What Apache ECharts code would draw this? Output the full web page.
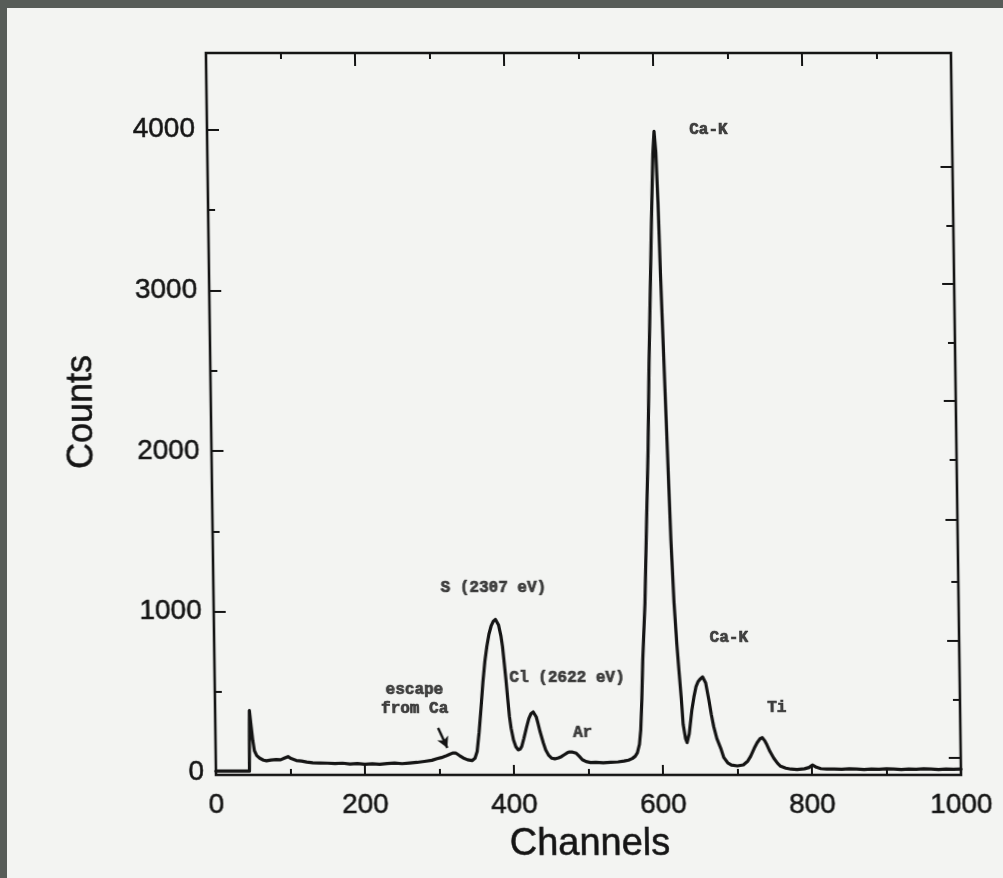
<!DOCTYPE html>
<html>
<head>
<meta charset="utf-8">
<title>Channels vs Counts</title>
<script src="https://cdn.jsdelivr.net/npm/echarts@6.0.0/dist/echarts.min.js"></script>
<style>
  html, body { margin: 0; padding: 0; width: 1003px; height: 878px; overflow: hidden; background: #575c58; }
  #paper { position: absolute; left: 7px; top: 8px; right: 0; bottom: 0; background: #f3f4f2; }
  /* the photocopied sheet sits slightly sheared */
  #chart { position: absolute; left: 0; top: 0; width: 1003px; height: 878px;
           transform: skewX(0.8deg); transform-origin: 0 775px; }
</style>
</head>
<body>
<div id="paper"></div>
<div id="chart"></div>
<script>
// Spectrum: channel number and counts per channel
const channels = [
  0, 45, 46, 48, 50, 52, 55, 59, 64, 68, 74, 81, 87, 92, 97, 101, 108, 115, 122, 130,
  140, 150, 160, 170, 180, 190, 200, 210, 220, 230, 240, 250, 260, 270, 280, 290, 297, 303, 308, 313,
  318, 322, 327, 332, 338, 344, 348, 351, 354, 357, 360, 363, 366, 369, 372, 375, 378, 380, 382, 385,
  387, 389, 391, 393, 395, 397, 400, 403, 406, 409, 411, 414, 418, 421, 424, 427, 429, 431, 433, 436,
  440, 443, 447, 451, 455, 460, 464, 468, 472, 475, 479, 484, 488, 492, 497, 503, 510, 520, 530, 540,
  548, 554, 559, 563, 566, 569, 571, 573, 575, 579, 583, 586, 589, 592, 595, 598, 600, 602, 604, 606,
  609, 612, 615, 618, 621, 623, 626, 628, 631, 633, 636, 640, 643, 646, 649, 652, 655, 659, 663, 666,
  669, 673, 678, 682, 687, 692, 700, 708, 714, 718, 723, 727, 731, 734, 737, 740, 744, 749, 754, 758,
  765, 772, 780, 790, 796, 801, 806, 812, 820, 830, 840, 850, 860, 870, 880, 890, 900, 910, 920, 930,
  940, 950, 960, 970, 980, 990, 1000
];
const counts = [
  8, 8, 385, 290, 200, 135, 105, 88, 76, 72, 77, 80, 78, 88, 98, 86, 74, 70, 64, 60,
  58, 57, 55, 57, 52, 55, 50, 53, 50, 55, 58, 54, 58, 62, 68, 75, 85, 92, 100, 110,
  120, 121, 105, 90, 78, 73, 88, 130, 250, 400, 560, 690, 785, 860, 910, 940, 952, 945, 918, 850,
  783, 680, 576, 460, 347, 275, 202, 160, 140, 146, 162, 212, 285, 335, 365, 376, 372, 345, 308, 250,
  183, 140, 106, 88, 84, 90, 98, 110, 122, 127, 126, 119, 100, 79, 67, 61, 63, 60, 62, 65,
  70, 76, 86, 100, 122, 175, 264, 450, 700, 1050, 1600, 2000, 2550, 3000, 3450, 3850, 3990, 3860, 3550, 3100,
  2550, 2000, 1450, 1060, 800, 660, 460, 300, 210, 185, 240, 389, 470, 534, 566, 582, 594, 557, 451, 360,
  285, 210, 150, 92, 60, 45, 40, 46, 70, 100, 150, 185, 210, 216, 198, 172, 130, 88, 56, 38,
  26, 20, 18, 22, 30, 46, 32, 23, 20, 21, 19, 22, 20, 18, 21, 19, 22, 20, 18, 21,
  19, 22, 20, 18, 21, 19, 20
];

// Axis tick values
const xLabelTicks = [0, 200, 400, 600, 800, 1000];
const xMajorTicks = [200, 400, 600, 800];
const xMinorTicks = [100, 300, 500, 700, 900];
const yLabelTicks = [0, 1000, 2000, 3000, 4000];
const yMajorTicks = [1000, 2000, 3000, 4000];
const yMinorTicks = [500, 1500, 2500, 3500];
const yRightMajor = [90, 818, 1571, 2312, 3040, 3768];
const yRightMinor = [451, 1185, 1945, 2673, 3401];

// Peak annotations: [channel, counts, text]
const peakLabels = [
  [673, 3998, 'Ca-K'],
  [376, 1148, 'S (2307 eV)'],
  [473, 588, 'Cl (2622 eV)'],
  [268, 451, 'escape\nfrom Ca'],
  [493, 247, 'Ar'],
  [691, 837, 'Ca-K'],
  [754, 401, 'Ti']
];
const escapeArrow = [[299, 277], [311, 152]];

const X_MIN = 0, X_MAX = 1000, Y_MIN = -16, Y_MAX = 4477;
const ink = '#141414';
const plotRect = { left: 216, right: 42, top: 53, bottom: 103 };
const tickFont = { fontFamily: 'Liberation Sans', fontSize: 28, color: '#141414',
                   textBorderColor: '#141414', textBorderWidth: 0.5 };

// long inward ticks on the left and bottom edges, expressed in axis units
const LEFT_TICK_SPAN = 16;   // channels
const BOTTOM_TICK_SPAN = 62; // counts
const edgeTicks = [].concat(
  yMajorTicks.map(v => [{ coord: [X_MIN, v] }, { coord: [X_MIN + LEFT_TICK_SPAN, v] }]),
  xMajorTicks.map(v => [{ coord: [v, Y_MIN] }, { coord: [v, Y_MIN + BOTTOM_TICK_SPAN] }])
);

// Tick-only axis
function tickAxis(grid, pos, ticks, len, min, max) {
  return {
    type: 'value', gridIndex: grid, position: pos, min: min, max: max,
    axisLine: { show: false, onZero: false },
    splitLine: { show: false },
    axisTick: { show: true, inside: true, length: len, customValues: ticks,
                lineStyle: { color: ink, width: 2 } },
    axisLabel: { show: false }
  };
}
// Label-only axis
function labelAxis(grid, pos, labels, margin, min, max) {
  return {
    type: 'value', gridIndex: grid, position: pos, min: min, max: max,
    axisLine: { show: false, onZero: false },
    splitLine: { show: false },
    axisTick: { show: false },
    axisLabel: Object.assign({
      show: true, customValues: labels, margin: margin, formatter: v => String(v)
    }, tickFont)
  };
}
// Plain scale carrying the data
function dataAxis(grid, pos, min, max) {
  return {
    type: 'value', gridIndex: grid, position: pos, min: min, max: max,
    axisLine: { show: false, onZero: false }, splitLine: { show: false },
    axisTick: { show: false }, axisLabel: { show: false }
  };
}

const spectrum = channels.map((c, i) => [c, counts[i]]);

const chart = echarts.init(document.getElementById('chart'), null, { renderer: 'canvas' });
chart.setOption({
  backgroundColor: 'transparent',
  animation: false,
  // grid 0: data and frame; grid 1: long ticks; grid 2: short ticks; grid 3: tick labels
  grid: [
    Object.assign({ show: true, borderColor: ink, borderWidth: 2.6, backgroundColor: 'transparent' }, plotRect),
    Object.assign({ show: false }, plotRect),
    Object.assign({ show: false }, plotRect),
    Object.assign({ show: false }, plotRect)
  ],
  xAxis: [
    dataAxis(0, 'bottom', X_MIN, X_MAX),
    tickAxis(1, 'bottom', xMajorTicks, 10, X_MIN, X_MAX),
    tickAxis(1, 'top', xMajorTicks, 13, X_MIN, X_MAX),
    tickAxis(2, 'bottom', xMinorTicks, 6, X_MIN, X_MAX),
    tickAxis(2, 'top', xMinorTicks, 6, X_MIN, X_MAX),
    labelAxis(3, 'bottom', xLabelTicks, 16, X_MIN, X_MAX)
  ],
  yAxis: [
    dataAxis(0, 'left', Y_MIN, Y_MAX),
    tickAxis(1, 'left', yMajorTicks, 12, Y_MIN, Y_MAX),
    tickAxis(1, 'right', yRightMajor, 12, Y_MIN, Y_MAX),
    tickAxis(2, 'left', yMinorTicks, 7, Y_MIN, Y_MAX),
    tickAxis(2, 'right', yRightMinor, 7, Y_MIN, Y_MAX),
    labelAxis(3, 'left', yLabelTicks, 12, Y_MIN, Y_MAX)
  ],
  graphic: [
    { type: 'text', x: 87, y: 412, rotation: Math.PI / 2,
      style: { text: 'Counts', fontFamily: 'Liberation Sans', fontSize: 36,
               fill: '#141414', stroke: '#141414', lineWidth: 0.5,
               align: 'center', verticalAlign: 'middle' } },
    { type: 'text', x: 589, y: 845,
      style: { text: 'Channels', fontFamily: 'Liberation Sans', fontSize: 38,
               fill: '#141414', stroke: '#141414', lineWidth: 0.5,
               align: 'center', verticalAlign: 'middle' } }
  ],
  series: [
    {
      type: 'line', xAxisIndex: 0, yAxisIndex: 0,
      data: spectrum, showSymbol: false, symbol: 'none',
      lineStyle: { color: ink, width: 3.2, cap: 'round', join: 'round' },
      markLine: {
        silent: true, symbol: ['none', 'none'],
        lineStyle: { color: ink, width: 2, type: 'solid' },
        label: { show: false },
        emphasis: { disabled: true },
        data: edgeTicks
      },
      z: 3
    },
    {
      type: 'scatter', xAxisIndex: 0, yAxisIndex: 0,
      symbolSize: 0, silent: true,
      data: peakLabels.map(p => ({ value: [p[0], p[1]], name: p[2] })),
      label: {
        show: true, position: 'inside', formatter: p => p.name,
        fontFamily: 'Liberation Mono', fontWeight: 'bold', fontSize: 16,
        lineHeight: 19, color: '#161616',
        textBorderColor: '#161616', textBorderWidth: 0.7
      },
      markLine: {
        silent: true, symbol: ['none', 'arrow'], symbolSize: [9, 11],
        lineStyle: { color: ink, width: 2.5, type: 'solid' },
        label: { show: false },
        data: [[{ coord: escapeArrow[0] }, { coord: escapeArrow[1] }]]
      },
      z: 4
    }
  ]
});
</script>
</body>
</html>
